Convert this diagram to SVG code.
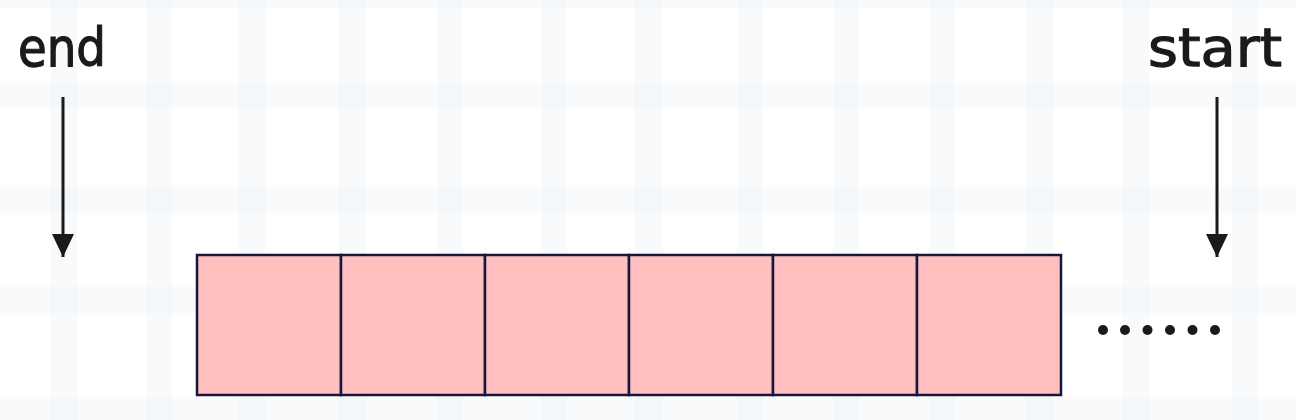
<svg xmlns="http://www.w3.org/2000/svg" width="1296" height="420" viewBox="0 0 1296 420">
  <style>
    .band { fill: #eef3f5; opacity: 0.42; }
    .label { font-family: "DejaVu Sans", "Noto Sans", sans-serif; font-size: 53px; fill: #1a1a1a; stroke: #1a1a1a; stroke-width: 1.2; }
    .cell { fill: #ffbfbe; stroke: #15173f; stroke-width: 2.5; }
    .conn { stroke: #1a1a1a; stroke-width: 3; fill: none; }
    .dot { fill: #1a1a1a; }
  </style>
  <defs>
    <marker id="arrow" markerWidth="23" markerHeight="22" refX="23" refY="11" orient="auto" markerUnits="userSpaceOnUse" viewBox="0 0 23 22">
      <path d="M0,0 L23,11 L0,22 Z" fill="#1a1a1a"/>
    </marker>
  </defs>
  <rect width="1296" height="420" fill="#ffffff"/>
  <g id="grid">
    <rect class="band" x="0" y="-18" width="1296" height="26"/>
    <rect class="band" x="0" y="83" width="1296" height="25"/>
    <rect class="band" x="0" y="187" width="1296" height="26"/>
    <rect class="band" x="0" y="287" width="1296" height="26"/>
    <rect class="band" x="0" y="397" width="1296" height="26"/>
    <rect class="band" x="51" y="0" width="26" height="420"/>
    <rect class="band" x="147" y="0" width="25" height="420"/>
    <rect class="band" x="239" y="0" width="26" height="420"/>
    <rect class="band" x="339" y="0" width="27" height="420"/>
    <rect class="band" x="437" y="0" width="26" height="420"/>
    <rect class="band" x="541" y="0" width="26" height="420"/>
    <rect class="band" x="635" y="0" width="28" height="420"/>
    <rect class="band" x="737" y="0" width="26" height="420"/>
    <rect class="band" x="833" y="0" width="26" height="420"/>
    <rect class="band" x="929" y="0" width="26" height="420"/>
    <rect class="band" x="1025" y="0" width="28" height="420"/>
    <rect class="band" x="1123" y="0" width="26" height="420"/>
    <rect class="band" x="1232" y="0" width="25" height="420"/>
  </g>
  <g id="label-end">
    <text class="label" x="18" y="66" textLength="88" lengthAdjust="spacingAndGlyphs">end</text>
  </g>
  <g id="label-start">
    <text class="label" x="1148" y="66" textLength="134" lengthAdjust="spacingAndGlyphs">start</text>
  </g>
  <g id="array">
    <rect id="cell-0" class="cell" x="197" y="255" width="144" height="140"/>
    <rect id="cell-1" class="cell" x="341" y="255" width="144" height="140"/>
    <rect id="cell-2" class="cell" x="485" y="255" width="144" height="140"/>
    <rect id="cell-3" class="cell" x="629" y="255" width="144" height="140"/>
    <rect id="cell-4" class="cell" x="773" y="255" width="144" height="140"/>
    <rect id="cell-5" class="cell" x="917" y="255" width="144" height="140"/>
  </g>
  <g id="ellipsis">
    <circle class="dot" cx="1103" cy="330" r="5"/>
    <circle class="dot" cx="1125" cy="330" r="5"/>
    <circle class="dot" cx="1147.5" cy="330" r="5"/>
    <circle class="dot" cx="1170" cy="330" r="5"/>
    <circle class="dot" cx="1192.5" cy="330" r="5"/>
    <circle class="dot" cx="1215" cy="330" r="5"/>
  </g>
  <g id="connectors">
    <line class="conn" x1="63" y1="97" x2="63" y2="257" marker-end="url(#arrow)"/>
    <line class="conn" x1="1217" y1="97" x2="1217" y2="257" marker-end="url(#arrow)"/>
  </g>
</svg>
